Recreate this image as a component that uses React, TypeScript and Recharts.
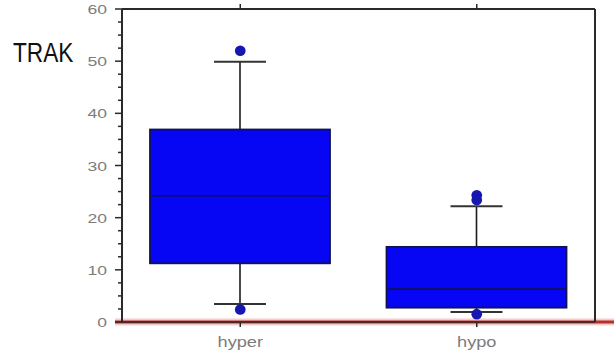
import React from 'react';
import {
  ComposedChart,
  Bar,
  Scatter,
  XAxis,
  YAxis,
  ZAxis,
  ReferenceLine,
} from 'recharts';

// Box-plot summary per group
const categories = ['hyper', 'hypo'];
const whiskerLow = [3.45, 1.9];
const quartile1 = [11.25, 2.75];
const medians = [24.2, 6.3];
const quartile3 = [36.9, 14.4];
const whiskerHigh = [49.9, 22.2];

// Individual points beyond the whiskers
const outlierGroups = ['hyper', 'hyper', 'hypo', 'hypo', 'hypo'];
const outlierValues = [52.0, 2.4, 24.3, 23.4, 1.5];

// Axis ticks: majors every 10 with labels, minors every 2.5
const yTicks = [
  0, 2.5, 5, 7.5, 10, 12.5, 15, 17.5, 20, 22.5, 25, 27.5, 30, 32.5, 35, 37.5,
  40, 42.5, 45, 47.5, 50, 52.5, 55, 57.5, 60,
];

const outliersByGroup = categories.map((cat) =>
  outlierValues.filter((_, i) => outlierGroups[i] === cat)
);
const maxOutliers = Math.max(...outliersByGroup.map((o) => o.length));
const outlierKeys = Array.from({ length: maxOutliers }, (_, k) => `out${k}`);

const boxData = categories.map((cat, i) => {
  const row: Record<string, any> = {
    cat,
    range: [whiskerLow[i], whiskerHigh[i]],
    low: whiskerLow[i],
    q1: quartile1[i],
    median: medians[i],
    q3: quartile3[i],
    high: whiskerHigh[i],
  };
  outlierKeys.forEach((key, k) => {
    row[key] = outliersByGroup[i][k] ?? null;
  });
  return row;
});

const AXIS = '#2a2a2a';
const LABEL = '#7c7c7c';
const FONT = 'Arial, "Liberation Sans", sans-serif';

// The bar spans the whisker range; the rest of the box is placed on the
// same pixel mapping the bar received from the y scale.
const BoxShape = (props: any) => {
  const { x, y, width, height, payload } = props;
  const top = Math.min(y, y + height);
  const bottom = Math.max(y, y + height);
  const lo = payload.low;
  const hi = payload.high;
  const py = (v: number) => bottom - ((v - lo) / (hi - lo)) * (bottom - top);
  const cx = x + width / 2;
  const cap = 26;
  return (
    <g>
      <line x1={cx} x2={cx} y1={py(hi)} y2={py(payload.q3)} stroke="#1c1c1c" strokeWidth={1.6} />
      <line x1={cx} x2={cx} y1={py(payload.q1)} y2={py(lo)} stroke="#1c1c1c" strokeWidth={1.6} />
      <line x1={cx - cap} x2={cx + cap} y1={py(hi)} y2={py(hi)} stroke="#333" strokeWidth={2} />
      <line x1={cx - cap} x2={cx + cap} y1={py(lo)} y2={py(lo)} stroke="#333" strokeWidth={2} />
      <rect
        x={x}
        y={py(payload.q3)}
        width={width}
        height={py(payload.q1) - py(payload.q3)}
        fill="#0606f4"
        stroke="#121250"
        strokeWidth={1.8}
      />
      <line
        x1={x}
        x2={x + width}
        y1={py(payload.median)}
        y2={py(payload.median)}
        stroke="#141440"
        strokeWidth={1.6}
      />
    </g>
  );
};

const LeftTick = (props: any) => {
  const { x, y, payload } = props;
  const v = payload.value;
  const major = v % 10 === 0;
  return (
    <g>
      <line x1={x - (major ? 7 : 4)} x2={x} y1={y} y2={y} stroke={AXIS} strokeWidth={1.5} />
      {major && (
        <g transform={`translate(${x - 15},${y}) scale(1.3,1)`}>
          <text textAnchor="end" dy={5} fill={LABEL} fontSize={13.5} fontFamily={FONT}>
            {v}
          </text>
        </g>
      )}
    </g>
  );
};

const RightTick = (props: any) => {
  const { x, y, payload } = props;
  const major = payload.value % 10 === 0;
  return <line x1={x} x2={x + (major ? 6 : 4)} y1={y} y2={y} stroke={AXIS} strokeWidth={1.5} />;
};

const TopTick = (props: any) => {
  const { x, y } = props;
  return <line x1={x} x2={x} y1={y - 5} y2={y} stroke={AXIS} strokeWidth={1.5} />;
};

const BottomTick = (props: any) => {
  const { x, y, payload } = props;
  return (
    <g transform={`translate(${x},${y}) scale(1.3,1)`}>
      <text textAnchor="middle" dy={18} fill={LABEL} fontSize={14} fontFamily={FONT}>
        {payload.value}
      </text>
    </g>
  );
};

const BaseLine = (props: any) => {
  const { x1, y1, y2 } = props;
  return (
    <g>
      <line x1={x1 - 7} x2={614} y1={y1} y2={y2} stroke="#f5cccc" strokeWidth={7} />
      <line x1={x1 - 7} x2={614} y1={y1} y2={y2} stroke="#b82f2a" strokeWidth={3} />
    </g>
  );
};

export default function App() {
  return (
    <div style={{ position: 'absolute', left: 0, top: 0, width: 614, height: 357, background: '#fff' }}>
      <ComposedChart
        width={614}
        height={357}
        data={boxData}
        margin={{ top: 0, right: 0, bottom: 0, left: 0 }}
      >
        <XAxis
          dataKey="cat"
          height={35}
          tickSize={5}
          tickLine={{ stroke: AXIS, strokeWidth: 1.5 }}
          axisLine={{ stroke: AXIS, strokeWidth: 1.5 }}
          tick={<BottomTick />}
          interval={0}
        />
        <XAxis
          xAxisId="top"
          dataKey="cat"
          orientation="top"
          height={9}
          tickSize={0}
          tickMargin={0}
          tickLine={false}
          tick={<TopTick />}
          axisLine={{ stroke: AXIS, strokeWidth: 2 }}
        />
        <YAxis
          domain={[0, 60]}
          ticks={yTicks}
          interval={0}
          width={122}
          tickSize={0}
          tickMargin={0}
          tickLine={false}
          axisLine={{ stroke: AXIS, strokeWidth: 2 }}
          tick={<LeftTick />}
          allowDataOverflow
        />
        <YAxis
          yAxisId="right"
          orientation="right"
          domain={[0, 60]}
          ticks={yTicks}
          interval={0}
          width={19}
          tickSize={0}
          tickMargin={0}
          tickLine={false}
          axisLine={{ stroke: AXIS, strokeWidth: 2 }}
          tick={<RightTick />}
        />
        <ZAxis range={[90, 90]} />
        <Bar dataKey="range" barSize={180} shape={<BoxShape />} isAnimationActive={false} />
        {outlierKeys.map((key) => (
          <Scatter key={key} dataKey={key} fill="#1616b0" isAnimationActive={false} />
        ))}
        <ReferenceLine y={0} ifOverflow="visible" shape={<BaseLine />} />
      </ComposedChart>
      <svg
        width={100}
        height={80}
        style={{ position: 'absolute', left: 0, top: 0, pointerEvents: 'none' }}
      >
        <g transform="translate(13,62) scale(0.84,1)">
          <text fontSize={27} fontFamily={FONT} fill="#111">
            TRAK
          </text>
        </g>
      </svg>
    </div>
  );
}
